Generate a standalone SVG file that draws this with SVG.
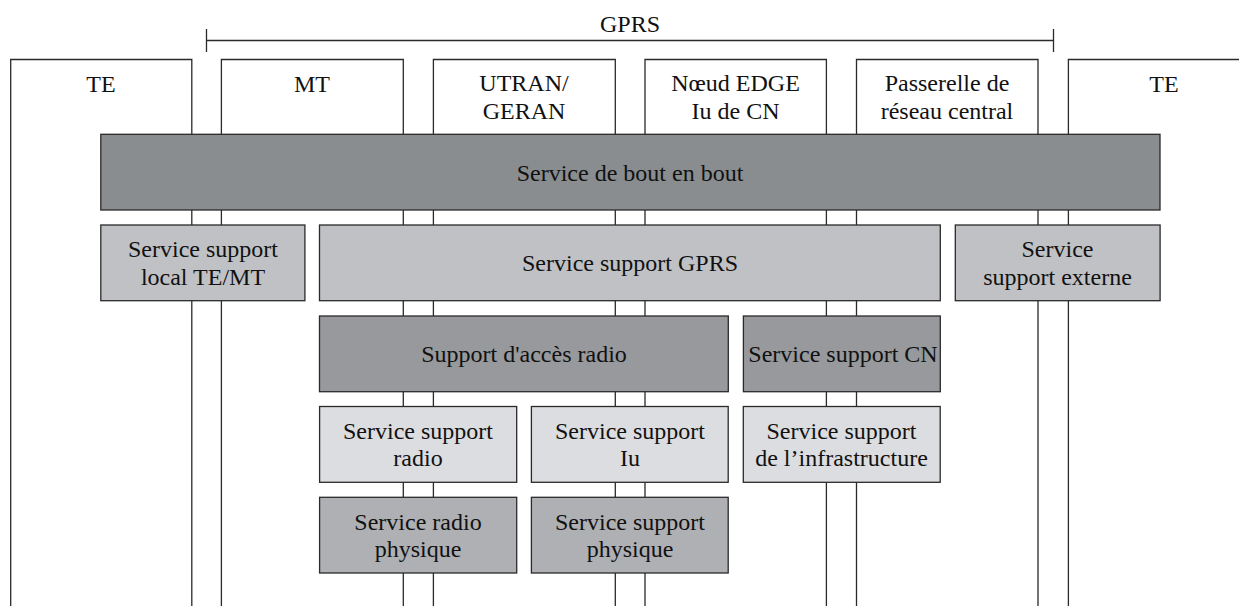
<svg xmlns="http://www.w3.org/2000/svg" width="1239" height="606" viewBox="0 0 1239 606">
<style>
text{font-family:"Liberation Serif","Times New Roman",serif;font-size:24px;fill:#111;text-anchor:middle}
.col{fill:none;stroke:#2a2a2a;stroke-width:1.3}
.box{stroke:#2a2a2a;stroke-width:1.3}
.e2e{fill:#898d8f}
.mid{fill:#c0c1c4}
.dark{fill:#97999c}
.light{fill:#dcdde0}
.phys{fill:#afb0b3}
.br{fill:none;stroke:#2a2a2a;stroke-width:1.3}
</style>
<rect width="1239" height="606" fill="#fff"/>
<g id="gprs-span">
<path class="br" d="M206.5 29V52M206.5 40.5H1053.5M1053.5 29V52"/>
<text x="630" y="32">GPRS</text>
</g>
<g id="col-te-left">
<path class="col" d="M10.7 606V59.5H191.8V606"/>
<text x="101" y="91.5">TE</text>
</g>
<g id="col-mt">
<path class="col" d="M221.4 606V59.5H403.3V606"/>
<text x="312" y="91.5">MT</text>
</g>
<g id="col-utran">
<path class="col" d="M433.4 606V59.5H615.3V606"/>
<text x="524" y="91">UTRAN/</text>
<text x="524" y="118.5">GERAN</text>
</g>
<g id="col-edge">
<path class="col" d="M645 606V59.5H826.4V606"/>
<text x="735.5" y="91">Nœud EDGE</text>
<text x="735.5" y="118.5">Iu de CN</text>
</g>
<g id="col-gateway">
<path class="col" d="M856.5 606V59.5H1038V606"/>
<text x="947" y="91">Passerelle de</text>
<text x="947" y="118.5">réseau central</text>
</g>
<g id="col-te-right">
<path class="col" d="M1068.4 606V59.5H1240"/>
<text x="1164" y="91.5">TE</text>
</g>
<g id="connectors"></g>
<g id="end-to-end">
<rect class="box e2e" x="100.8" y="134.3" width="1059.2" height="75.7"/>
<text x="630" y="181">Service de bout en bout</text>
</g>
<g id="local-te-mt">
<rect class="box mid" x="100.8" y="225" width="204.1" height="75.7"/>
<text x="203" y="257">Service support</text>
<text x="203" y="284.5">local TE/MT</text>
</g>
<g id="gprs-bearer">
<rect class="box mid" x="319.5" y="225" width="620.8" height="75.7"/>
<text x="630" y="271">Service support GPRS</text>
</g>
<g id="external-bearer">
<rect class="box mid" x="955.3" y="225" width="204.8" height="75.7"/>
<text x="1057.5" y="257">Service</text>
<text x="1057.5" y="284.5">support externe</text>
</g>
<g id="radio-access">
<rect class="box dark" x="319.5" y="316" width="408.8" height="75.7"/>
<text x="524" y="362">Support d'accès radio</text>
</g>
<g id="cn-bearer">
<rect class="box dark" x="743.4" y="316" width="196.9" height="75.7"/>
<text x="843" y="362">Service support CN</text>
</g>
<g id="radio-bearer">
<rect class="box light" x="319.6" y="406.5" width="197.1" height="75.8"/>
<text x="418" y="438.5">Service support</text>
<text x="418" y="466">radio</text>
</g>
<g id="iu-bearer">
<rect class="box light" x="531.4" y="406.5" width="196.8" height="75.8"/>
<text x="630" y="438.5">Service support</text>
<text x="630" y="466">Iu</text>
</g>
<g id="backbone-bearer">
<rect class="box light" x="743.3" y="406.5" width="196.9" height="75.8"/>
<text x="841.5" y="438.5">Service support</text>
<text x="841.5" y="466">de l’infrastructure</text>
</g>
<g id="radio-physical">
<rect class="box phys" x="319.6" y="497.3" width="197.1" height="75.7"/>
<text x="418" y="529.5">Service radio</text>
<text x="418" y="557">physique</text>
</g>
<g id="physical-bearer">
<rect class="box phys" x="531.4" y="497.3" width="196.8" height="75.7"/>
<text x="630" y="529.5">Service support</text>
<text x="630" y="557">physique</text>
</g>
</svg>
